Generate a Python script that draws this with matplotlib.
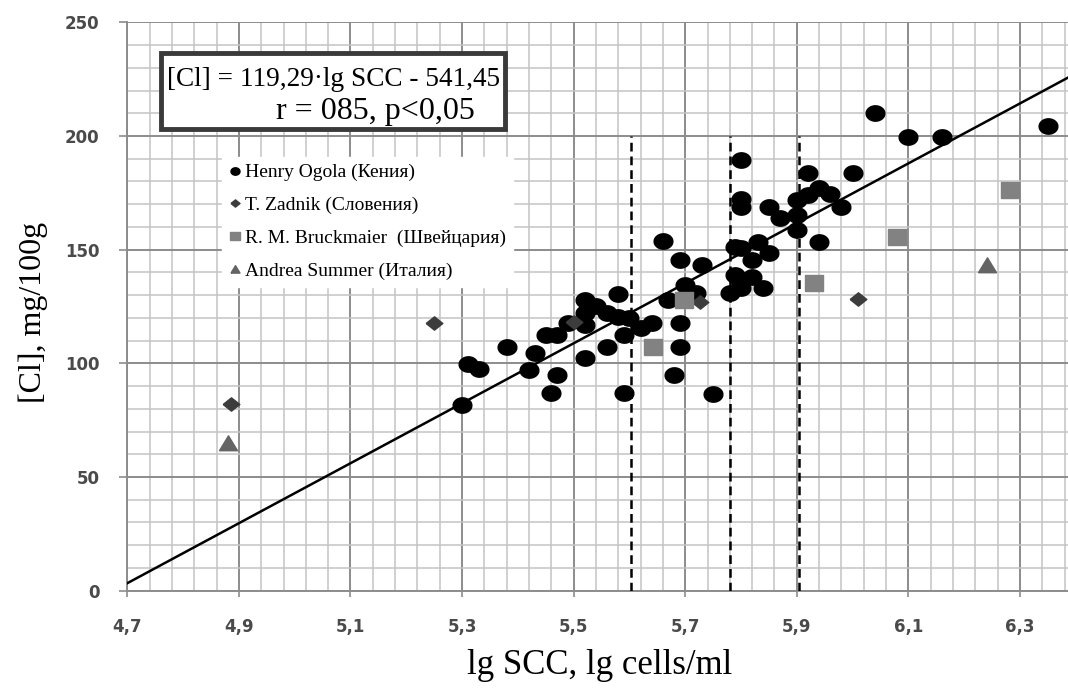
import numpy as np
import matplotlib
matplotlib.use('Agg')
import matplotlib.pyplot as plt
from matplotlib.path import Path
from matplotlib.lines import Line2D
from matplotlib.patches import Rectangle

#--- data
henry_x = [5.30, 5.31, 5.33, 5.38, 5.42, 5.43, 5.45, 5.47, 5.46, 5.47,
           5.49, 5.52, 5.52, 5.52, 5.52, 5.54, 5.56, 5.56, 5.59, 5.58,
           5.58, 5.59, 5.60, 5.62, 5.64, 5.68, 5.69, 5.69, 5.69, 5.66,
           5.67, 5.70, 5.72, 5.73, 5.75, 5.78, 5.79, 5.79, 5.80, 5.80,
           5.80, 5.80, 5.80, 5.80, 5.82, 5.82, 5.83, 5.84, 5.85, 5.85,
           5.87, 5.90, 5.90, 5.90, 5.92, 5.92, 5.94, 5.94, 5.96, 5.98,
           6.00, 6.04, 6.10, 6.16, 6.35]
henry_y = [81.7, 99.6, 97.4, 107.0, 97.1, 104.7, 112.5, 112.5, 86.8, 94.9,
           117.6, 102.2, 116.9, 122.3, 127.9, 125.2, 122.3, 107.0, 86.8, 130.5,
           120.5, 112.5, 119.8, 115.4, 117.6, 94.9, 117.6, 107.0, 145.4, 153.7,
           127.9, 134.5, 131.1, 143.3, 86.5, 130.8, 138.9, 151.3, 135.5, 133.0,
           150.6, 168.9, 172.1, 189.4, 138.1, 145.4, 153.5, 133.0, 148.4, 168.9,
           163.8, 158.6, 165.2, 171.8, 174.0, 183.8, 177.0, 153.5, 174.3, 168.9,
           183.8, 210.0, 199.7, 199.7, 204.4]

zadnik_x = [4.886, 5.25, 5.50, 5.726, 6.01]
zadnik_y = [82.0, 117.6, 118.3, 127.1, 128.2]

bruck_x = [5.643, 5.697, 5.931, 6.079, 6.282]
bruck_y = [107.0, 127.9, 135.2, 155.7, 176.2]

summer_x = [4.880, 6.241]
summer_y = [64.8, 143.3]

fit_x = [4.7, 6.4]
fit_y = [3.3, 227.5]

cut_x = [5.603, 5.780, 5.904]
cut_top = 200

labels = ['Henry Ogola (Кения)', 'T. Zadnik (Словения)',
          'R. M. Bruckmaier  (Швейцария)', 'Andrea Summer (Италия)']

x_ticks = [4.7, 4.9, 5.1, 5.3, 5.5, 5.7, 5.9, 6.1, 6.3]
y_ticks = [0, 50, 100, 150, 200, 250]

#--- flattened markers (the source picture is a bit stretched)
t = np.linspace(0, 2 * np.pi, 40)
m_circle = Path(np.column_stack([np.cos(t), 0.82 * np.sin(t)]))
m_diam = Path([(-1, 0), (0, 0.8), (1, 0), (0, -0.8), (-1, 0)])
m_square = Path([(-1, -0.85), (1, -0.85), (1, 0.85), (-1, 0.85), (-1, -0.85)])
m_tri = Path([(-1, -0.8), (1, -0.8), (0, 0.85), (-1, -0.8)])

W, H = 1068, 688
fig = plt.figure(figsize=(W / 100, H / 100), dpi=100)

def fx(px):
    return px / W

def fy(py):
    return 1 - py / H

x0, x1 = 4.7, 6.4
px_unit = 557.9
ax = fig.add_axes([fx(127.3), fy(590.7), (x1 - x0) * px_unit / W, 568.4 / H])
ax.set_xlim(x0, x1)
ax.set_ylim(0, 250)

#--- grid
ax.set_xticks(x_ticks)
ax.set_xticks(np.arange(4.7, 6.41, 0.04), minor=True)
ax.set_yticks(y_ticks)
ax.set_yticks(np.arange(0, 251, 10), minor=True)
ax.grid(which='minor', color='#c4c4c4', lw=1.1)
ax.grid(which='major', color='#8c8c8c', lw=1.4)
ax.set_axisbelow(True)
ax.set_xticklabels([('%.1f' % v).replace('.', ',') for v in x_ticks])

for s in ['top', 'right']:
    ax.spines[s].set_visible(False)
for s in ['left', 'bottom']:
    ax.spines[s].set_color('#8c8c8c')
    ax.spines[s].set_linewidth(1.4)

ax.tick_params(axis='y', which='major', direction='out', length=6, width=1.2,
               color='#8c8c8c', pad=14, labelsize=12, labelcolor='#4a4a4a')
ax.tick_params(axis='x', which='major', direction='out', length=4.5, width=1.2,
               color='#8c8c8c', pad=15, labelsize=12, labelcolor='#4a4a4a')
ax.tick_params(which='minor', length=0)
for lb in ax.get_xticklabels() + ax.get_yticklabels():
    lb.set_fontweight('bold')

#--- cut-off lines and regression
for xc in cut_x:
    ax.plot([xc, xc], [0, cut_top], c='black', lw=1.8, dashes=(3.5, 2), zorder=3)
ax.plot(fit_x, fit_y, c='black', lw=1.8, zorder=3)

#--- data
ax.plot(henry_x, henry_y, ls='none', marker=m_circle, ms=13.5, c='black', zorder=4)
ax.plot(zadnik_x, zadnik_y, ls='none', marker=m_diam, ms=12, c='#3c3c3c', zorder=5)
ax.plot(bruck_x, bruck_y, ls='none', marker=m_square, ms=13, c='#828282', zorder=5)
ax.plot(summer_x, summer_y, ls='none', marker=m_tri, ms=13, c='#646464', zorder=5)

#--- legend
handles = [Line2D([], [], ls='none', marker=m_circle, ms=6.5, c='black'),
           Line2D([], [], ls='none', marker=m_diam, ms=6.5, c='#3c3c3c'),
           Line2D([], [], ls='none', marker=m_square, ms=6.5, c='#828282'),
           Line2D([], [], ls='none', marker=m_tri, ms=6.5, c='#646464')]
leg = ax.legend(handles, labels, loc='upper left',
                bbox_to_anchor=(fx(222), fy(157)), bbox_transform=fig.transFigure,
                prop={'family': 'Liberation Serif', 'size': 14},
                frameon=True, fancybox=False, framealpha=1, edgecolor='white',
                handlelength=0.6, handletextpad=0.22, labelspacing=0.78,
                borderpad=0.35, borderaxespad=0)
leg.set_zorder(6)

#--- equation box
fig.patches.append(Rectangle((fx(161), fy(129)), fx(505) - fx(161), fy(53) - fy(129),
                             transform=fig.transFigure, facecolor='white',
                             edgecolor='#3a3a3a', lw=3.5, zorder=7))
fig.text(fx(167), fy(79), '[Cl] = 119,29·lg SCC - 541,45', family='Liberation Serif',
         fontsize=19.6, ha='left', va='center', zorder=8)
fig.text(fx(375), fy(112), 'r = 085, p<0,05', family='Liberation Serif',
         fontsize=23, ha='center', va='center', zorder=8)

#--- axis titles
fig.text(fx(600), fy(665), 'lg SCC, lg cells/ml', family='Liberation Serif',
         fontsize=25, ha='center', va='center')
fig.text(fx(33), fy(312), '[Cl], mg/100g', family='Liberation Serif',
         fontsize=23, ha='center', va='center', rotation=90)

plt.savefig('out.png', dpi=100)
